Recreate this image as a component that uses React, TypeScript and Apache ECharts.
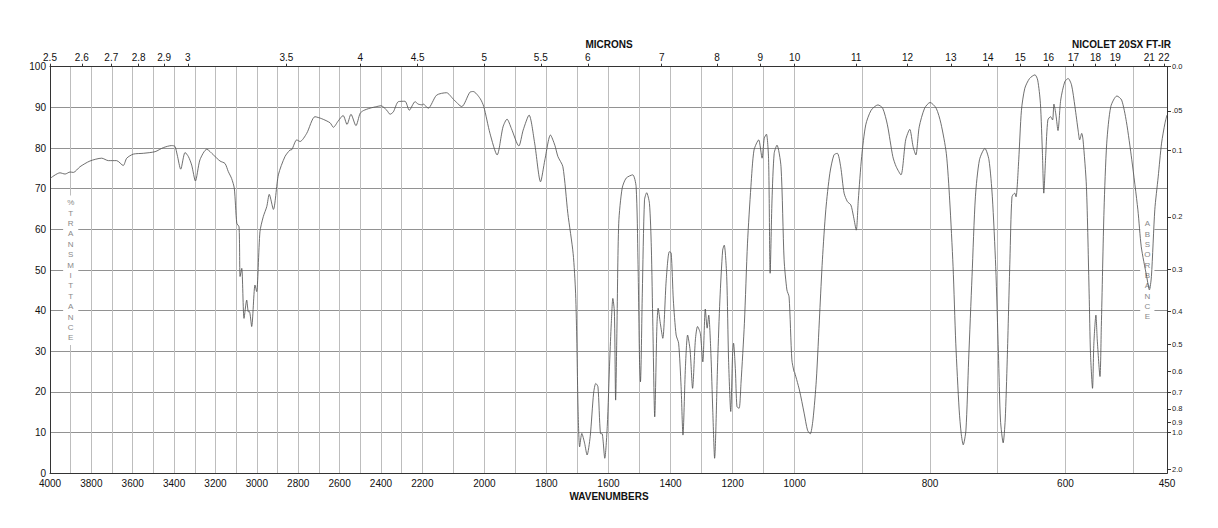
import React, { useEffect, useRef } from 'react';
import * as echarts from 'echarts';

const FONT = '"Liberation Sans", Arial, Helvetica, sans-serif';

// Wavenumber segments of the x axis (each occupies one third of the plot width)
const segmentRanges: [number, number][] = [
  [2200, 4000],
  [1000, 2200],
  [450, 1000],
];

// Bottom wavenumber tick labels per segment
const wavenumberLabels: number[][] = [
  [4000, 3800, 3600, 3400, 3200, 3000, 2800, 2600, 2400],
  [2200, 2000, 1800, 1600, 1400, 1200, 1000],
  [800, 600, 450],
];

// Vertical grid lines per segment (every 100 cm-1)
const wavenumberGridLines: number[][] = [
  [4000, 3900, 3800, 3700, 3600, 3500, 3400, 3300, 3200, 3100, 3000, 2900, 2800, 2700, 2600, 2500, 2400, 2300, 2200],
  [2200, 2100, 2000, 1900, 1800, 1700, 1600, 1500, 1400, 1300, 1200, 1100, 1000],
  [1000, 900, 800, 700, 600, 500, 450],
];

// Top micron tick labels
const micronLabels = [2.5, 2.6, 2.7, 2.8, 2.9, 3, 3.5, 4, 4.5, 5, 5.5, 6, 7, 8, 9, 10, 11, 12, 13, 14, 15, 16, 17, 18, 19, 21, 22];

// Left %T ticks
const transmittanceTicks = [0, 10, 20, 30, 40, 50, 60, 70, 80, 90, 100];

// Right absorbance ticks
const absorbanceTicks = [0, 0.05, 0.1, 0.2, 0.3, 0.4, 0.5, 0.6, 0.7, 0.8, 0.9, 1.0, 2.0];
const absorbanceLabels = ['0.0', '.05', '0.1', '0.2', '0.3', '0.4', '0.5', '0.6', '0.7', '0.8', '0.9', '1.0', '2.0'];

// Spectrum: [wavenumber cm-1, %transmittance]
const spectrumHigh: [number, number][] = [
  [4000, 72.5], [3952, 73.9], [3927, 73.6], [3903, 74.1], [3887, 74.0], [3855, 75.4], [3807, 76.8],
  [3750, 77.5], [3718, 76.9], [3678, 76.9], [3646, 75.7], [3629, 77.5], [3597, 78.5], [3549, 78.7],
  [3492, 79.1], [3452, 80.1], [3412, 80.6], [3396, 80.4], [3385, 78.3], [3368, 74.8], [3347, 78.9],
  [3331, 77.9], [3315, 75.8], [3297, 71.9], [3275, 77.1], [3242, 79.7], [3210, 78.3], [3178, 76.8],
  [3154, 76.2], [3138, 74.2], [3122, 72.5], [3109, 70.1], [3097, 61.5], [3086, 60.6], [3081, 48.4],
  [3073, 50.4], [3062, 38.1], [3049, 42.6], [3041, 39.7], [3036, 39.8], [3025, 36.1], [3009, 46.3],
  [3001, 44.7], [2985, 59.4], [2969, 63.1], [2952, 65.6], [2940, 68.6], [2920, 64.9], [2896, 73.4],
  [2864, 77.9], [2840, 79.5], [2831, 79.6], [2807, 82.0], [2791, 81.6], [2759, 83.6], [2719, 87.7],
  [2686, 87.2], [2646, 86.2], [2630, 85.1], [2606, 86.7], [2583, 88.0], [2564, 85.8], [2545, 88.3],
  [2521, 85.5], [2501, 88.5], [2485, 89.2], [2453, 89.8], [2420, 90.2], [2400, 90.4], [2372, 89.3],
  [2356, 88.3], [2340, 88.9], [2316, 91.4], [2284, 91.5], [2263, 89.3], [2235, 91.4], [2220, 90.8],
  [2200, 90.6],
];

const spectrumMid: [number, number][] = [
  [2200, 90.6], [2197, 90.8], [2181, 89.8], [2154, 93.0], [2122, 93.6], [2100, 92.0], [2073, 90.2],
  [2047, 93.7], [2036, 93.9], [2014, 92.2], [2002, 90.2], [1982, 83.6], [1959, 78.3], [1940, 85.2],
  [1927, 87.1], [1913, 84.8], [1889, 80.5], [1875, 84.4], [1856, 88.1], [1838, 81.2], [1819, 71.7],
  [1805, 77.1], [1787, 83.2], [1773, 80.7], [1763, 77.9], [1747, 75.4], [1731, 63.9], [1714, 54.1],
  [1706, 44.3], [1702, 32.0], [1698, 15.6], [1693, 6.5], [1686, 9.8], [1677, 7.4], [1669, 4.5],
  [1659, 9.0], [1648, 19.7], [1641, 22.1], [1634, 21.3], [1626, 9.8], [1620, 9.7], [1612, 3.7],
  [1604, 11.5], [1596, 27.9], [1591, 36.9], [1586, 43.0], [1581, 39.7], [1577, 18.0], [1573, 34.4],
  [1567, 61.5], [1556, 70.1], [1543, 72.6], [1522, 73.4], [1511, 70.5], [1505, 52.5], [1500, 27.9],
  [1497, 22.5], [1491, 44.3], [1484, 67.2], [1477, 69.0], [1468, 66.4], [1462, 55.7], [1457, 36.1],
  [1451, 13.9], [1444, 36.1], [1440, 40.6], [1433, 36.9], [1425, 33.2], [1414, 47.5], [1404, 54.5],
  [1398, 54.2], [1391, 42.6], [1382, 34.0], [1374, 32.0], [1366, 21.3], [1360, 9.4], [1352, 26.2],
  [1345, 34.0], [1337, 30.3], [1329, 20.9], [1320, 32.8], [1313, 36.1], [1304, 34.4], [1296, 27.4],
  [1288, 40.4], [1282, 35.7], [1277, 38.9], [1270, 29.5], [1264, 15.6], [1258, 3.7], [1248, 27.9],
  [1241, 42.6], [1232, 54.9], [1227, 56.1], [1219, 48.4], [1213, 27.9], [1206, 15.2], [1200, 29.5],
  [1197, 32.0], [1191, 25.4], [1186, 16.4], [1179, 16.0], [1173, 22.1], [1162, 36.9], [1152, 56.6],
  [1141, 70.5], [1131, 79.5], [1116, 82.0], [1105, 77.5], [1098, 82.4], [1091, 83.4], [1084, 77.1],
  [1079, 49.2], [1073, 67.2], [1066, 78.7], [1057, 80.7], [1044, 75.4], [1034, 52.5], [1025, 45.1],
  [1018, 43.4], [1009, 27.9], [1002, 25.0], [1000, 24.8],
];

const spectrumLow: [number, number][] = [
  [1000, 24.8], [993, 20.5], [986, 14.8], [981, 10.6], [977, 9.7], [973, 13.1], [968, 22.9],
  [963, 39.4], [959, 52.5], [954, 64.8], [948, 73.8], [942, 78.3], [937, 78.7], [932, 75.4],
  [927, 68.9], [922, 66.8], [917, 66.0], [913, 63.1], [909, 59.8], [906, 67.2], [901, 77.9],
  [895, 85.7], [887, 89.3], [877, 90.6], [870, 89.8], [863, 85.7], [855, 77.9], [850, 75.4],
  [843, 73.4], [836, 82.0], [830, 84.6], [825, 80.3], [821, 78.3], [816, 85.2], [808, 89.8],
  [800, 91.2], [791, 89.8], [784, 86.1], [776, 78.7], [771, 67.2], [766, 50.8], [762, 32.0],
  [757, 15.6], [754, 9.8], [751, 7.0], [747, 10.6], [743, 27.9], [738, 48.4], [733, 68.0],
  [727, 77.1], [719, 79.9], [713, 77.1], [708, 68.0], [703, 50.8], [699, 29.5], [696, 13.1],
  [692, 7.5], [689, 13.1], [686, 27.9], [682, 52.5], [679, 68.0], [675, 68.9], [673, 68.0],
  [669, 77.1], [665, 89.3], [660, 94.7], [653, 97.1], [645, 98.0], [641, 96.7], [637, 91.0],
  [634, 78.7], [632, 68.9], [629, 78.7], [626, 86.9], [622, 87.7], [619, 86.9], [617, 90.8],
  [614, 88.1], [611, 84.3], [607, 91.8], [601, 96.3], [596, 97.1], [591, 95.5], [586, 90.2],
  [581, 84.0], [579, 82.0], [576, 83.6], [574, 82.0], [569, 70.5], [565, 44.3], [563, 29.5],
  [560, 20.9], [558, 32.0], [555, 38.9], [553, 32.8], [549, 23.8], [547, 36.1], [543, 64.8],
  [539, 81.2], [533, 90.2], [524, 92.8], [517, 91.8], [510, 86.5], [502, 77.1], [493, 64.8],
  [488, 55.7], [480, 48.4], [476, 45.1], [473, 48.4], [468, 64.8], [463, 72.9], [458, 81.2],
  [453, 86.1], [450, 88.1],
];

const GRID_LEFT = 50;
const GRID_TOP = 66.7;
const GRID_HEIGHT = 406.6;
const SEG_WIDTH = 372.33;

const AXIS_COLOR = '#333';
const V_GRID_COLOR = '#bdbdbd';
const H_GRID_COLOR = '#929292';
const CURVE_COLOR = '#555555';

function micronWavenumbersFor(seg: number): number[] {
  return micronLabels
    .map((m) => 10000 / m)
    .filter((wn) => {
      if (seg === 0) return wn > 2200;
      if (seg === 1) return wn > 1000 && wn <= 2200;
      return wn <= 1000;
    });
}

function formatMicron(v: number): string {
  const m = 10000 / v;
  let best = micronLabels[0];
  for (const x of micronLabels) if (Math.abs(x - m) < Math.abs(best - m)) best = x;
  return String(best);
}

const absorbanceT = absorbanceTicks.map((a) => 100 * Math.pow(10, -a));

function formatAbsorbance(v: number): string {
  let idx = 0;
  for (let i = 0; i < absorbanceT.length; i++) {
    if (Math.abs(absorbanceT[i] - v) < Math.abs(absorbanceT[idx] - v)) idx = i;
  }
  return absorbanceLabels[idx];
}

function buildOption(): any {
  const grids = segmentRanges.map((_, i) => ({
    left: GRID_LEFT + i * SEG_WIDTH,
    top: GRID_TOP,
    width: SEG_WIDTH,
    height: GRID_HEIGHT,
    containLabel: false,
    outerBoundsMode: 'none',
  }));

  const bottomAxes = segmentRanges.map(([mn, mx], i) => ({
    type: 'value',
    gridIndex: i,
    position: 'bottom',
    inverse: true,
    min: mn,
    max: mx,
    axisLine: { show: true, onZero: false, lineStyle: { color: AXIS_COLOR, width: 1 } },
    axisTick: { show: false, customValues: wavenumberGridLines[i] },
    axisLabel: {
      show: true,
      customValues: wavenumberLabels[i],
      fontSize: 10,
      fontFamily: FONT,
      color: '#111',
      margin: 5,
      formatter: (v: number) => String(Math.round(v)),
    },
    splitLine: { show: true, lineStyle: { color: V_GRID_COLOR, width: 1 } },
  }));

  const topAxes = segmentRanges.map(([mn, mx], i) => ({
    type: 'value',
    gridIndex: i,
    position: 'top',
    inverse: true,
    min: mn,
    max: mx,
    axisLine: { show: true, onZero: false, lineStyle: { color: AXIS_COLOR, width: 1 } },
    axisTick: {
      show: true,
      customValues: micronWavenumbersFor(i),
      length: 3,
      lineStyle: { color: AXIS_COLOR, width: 1 },
    },
    axisLabel: {
      show: true,
      customValues: micronWavenumbersFor(i),
      fontSize: 10,
      fontFamily: FONT,
      color: '#111',
      margin: 4,
      formatter: (v: number) => formatMicron(v),
    },
    splitLine: { show: false },
  }));

  const leftY = segmentRanges.map((_, i) => ({
    type: 'value',
    gridIndex: i,
    position: 'left',
    min: 0,
    max: 100,
    interval: 10,
    axisLine: { show: i === 0, onZero: false, lineStyle: { color: AXIS_COLOR, width: 1 } },
    axisTick: { show: false },
    axisLabel: {
      show: i === 0,
      customValues: transmittanceTicks,
      fontSize: 10,
      fontFamily: FONT,
      color: '#111',
      margin: 4,
    },
    splitLine: { show: true, lineStyle: { color: H_GRID_COLOR, width: 1 } },
  }));

  const rightY = {
    type: 'value',
    gridIndex: 2,
    position: 'right',
    min: 0,
    max: 100,
    axisLine: { show: true, onZero: false, lineStyle: { color: AXIS_COLOR, width: 1 } },
    axisTick: {
      show: true,
      customValues: absorbanceT,
      length: 4,
      lineStyle: { color: AXIS_COLOR, width: 1 },
    },
    axisLabel: {
      show: true,
      customValues: absorbanceT,
      fontSize: 7.5,
      fontFamily: FONT,
      color: '#222',
      margin: 5,
      formatter: (v: number) => formatAbsorbance(v),
    },
    splitLine: { show: false },
  };

  const series = [spectrumHigh, spectrumMid, spectrumLow].map((d, i) => ({
    type: 'line',
    xAxisIndex: i,
    yAxisIndex: i,
    data: d,
    showSymbol: false,
    symbol: 'none',
    silent: true,
    smooth: 0.25,
    z: 3,
    lineStyle: { color: CURVE_COLOR, width: 0.85 },
  }));

  const stackText = (s: string) => s.split('').join('\n');

  return {
    animation: false,
    backgroundColor: '#ffffff',
    textStyle: { fontFamily: FONT },
    grid: grids,
    xAxis: [...bottomAxes, ...topAxes],
    yAxis: [...leftY, rightY],
    series,
    graphic: [
      {
        type: 'text',
        x: 609,
        y: 44,
        z: 5,
        style: {
          text: 'MICRONS',
          font: `bold 10px ${FONT}`,
          fill: '#111',
          align: 'center',
          textAlign: 'center',
          verticalAlign: 'middle',
          textVerticalAlign: 'middle',
        },
      },
      {
        type: 'text',
        x: 1171,
        y: 44,
        z: 5,
        style: {
          text: 'NICOLET 20SX FT-IR',
          font: `bold 10px ${FONT}`,
          fill: '#111',
          align: 'right',
          textAlign: 'right',
          verticalAlign: 'middle',
          textVerticalAlign: 'middle',
        },
      },
      {
        type: 'text',
        x: 609,
        y: 496.5,
        z: 5,
        style: {
          text: 'WAVENUMBERS',
          font: `bold 10px ${FONT}`,
          fill: '#111',
          align: 'center',
          textAlign: 'center',
          verticalAlign: 'middle',
          textVerticalAlign: 'middle',
        },
      },
      {
        type: 'text',
        x: 70.7,
        y: 195.5,
        z: 1,
        style: {
          text: stackText('%TRANSMITTANCE'),
          font: `8px ${FONT}`,
          fill: '#888888',
          align: 'center',
          textAlign: 'center',
          verticalAlign: 'top',
          textVerticalAlign: 'top',
          lineHeight: 10.4,
          backgroundColor: '#ffffff',
          padding: [2, 4, 2, 4],
        },
      },
      {
        type: 'text',
        x: 1147.3,
        y: 216.8,
        z: 1,
        style: {
          text: stackText('ABSORBANCE'),
          font: `8px ${FONT}`,
          fill: '#888888',
          align: 'center',
          textAlign: 'center',
          verticalAlign: 'top',
          textVerticalAlign: 'top',
          lineHeight: 10.3,
          backgroundColor: '#ffffff',
          padding: [2, 4, 2, 4],
        },
      },
    ],
  };
}

export default function App() {
  const ref = useRef<HTMLDivElement>(null);
  useEffect(() => {
    if (!ref.current) return;
    const chart = echarts.init(ref.current, undefined, { renderer: 'svg' });
    chart.setOption(buildOption());
    return () => chart.dispose();
  }, []);
  return (
    <div
      ref={ref}
      style={{ position: 'absolute', left: 0, top: 0, width: 1218, height: 528, background: '#fff' }}
    />
  );
}
